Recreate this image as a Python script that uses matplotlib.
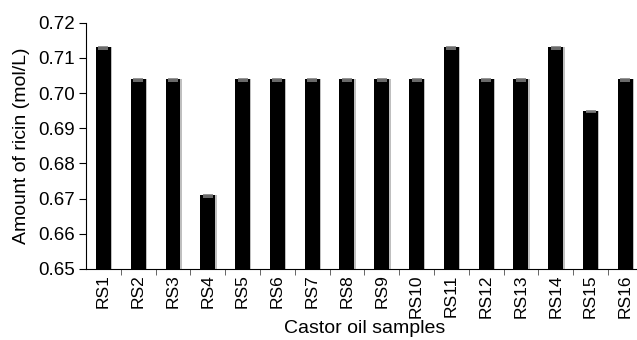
import matplotlib
matplotlib.use("Agg")
from matplotlib import pyplot as plt
import numpy as np

samples = ["RS%d" % i for i in range(1, 17)]
ricin = [0.713, 0.704, 0.704, 0.671, 0.704, 0.704, 0.704, 0.704,
         0.704, 0.704, 0.713, 0.704, 0.704, 0.713, 0.695, 0.704]
y_ticks = [0.65, 0.66, 0.67, 0.68, 0.69, 0.70, 0.71, 0.72]

plt.rcParams['font.family'] = ['Liberation Sans', 'DejaVu Sans']


def main():
    fig = plt.figure(figsize=(6.37, 3.40), dpi=100)
    ax = fig.add_axes([0.135, 0.209, 0.874, 0.724])
    x = np.arange(len(samples))

    # faint shadow on the right side of each bar
    ax.bar(x + 0.04, ricin, width=0.43, color='0.75', zorder=1)
    ax.bar(x, ricin, width=0.43, color='black', zorder=2)
    ax.errorbar(x, ricin, yerr=[[0.0005] * len(ricin), [0] * len(ricin)],
                fmt='none', ecolor='0.5', capsize=3.5, elinewidth=0, capthick=1.2, zorder=3)

    ax.set_xlim(-0.5, len(samples) - 0.5)
    ax.set_ylim(0.65, 0.72)
    ax.set_yticks(y_ticks)
    ax.set_yticklabels(["%.2f" % v for v in y_ticks], fontsize=13.5)
    ax.set_xticks(x)
    ax.set_xticklabels(samples, rotation=90, fontsize=12.5)
    ax.set_xticks(np.arange(0.5, len(samples) - 0.5, 1), minor=True)
    ax.tick_params(axis='x', which='major', length=0, pad=4)
    ax.tick_params(axis='x', which='minor', length=4, color='0.3')
    ax.tick_params(axis='y', length=5, direction='out', pad=3)

    ax.spines['top'].set_visible(False)
    ax.spines['right'].set_visible(False)

    ax.set_ylabel("Amount of ricin (mol/L)", fontsize=14, labelpad=6)
    ax.set_xlabel("Castor oil samples", fontsize=14, labelpad=1)

    fig.savefig("out.png", dpi=100)


if __name__ == "__main__":
    main()
